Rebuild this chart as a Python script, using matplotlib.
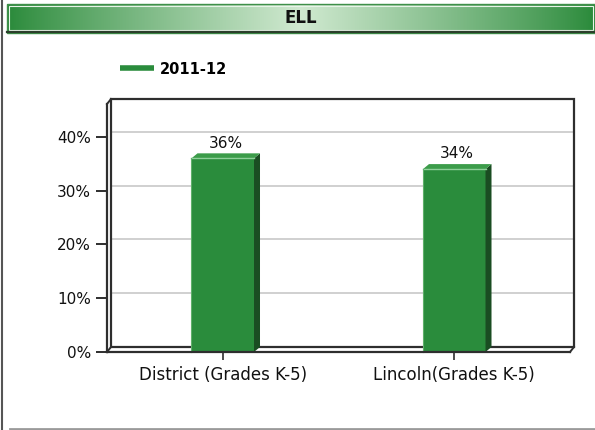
import numpy as np
import matplotlib
matplotlib.use("Agg")
import matplotlib.pyplot as plt
from matplotlib.lines import Line2D
from matplotlib.patches import Polygon, Rectangle

# ---- data ----
title = "ELL"
series_name = "2011-12"
categories = ["District (Grades K-5)", "Lincoln(Grades K-5)"]
values = [36, 34]
yticks = [0, 10, 20, 30, 40]

# ---- styling ----
W, H = 595, 430
DPI = 100
front_col = "#2a8c3c"
side_col = "#1a4d22"
top_col = "#3c9c4a"
hl_col = "#8fd09a"
frame_col = "#2e2e2e"
grid_col = "#c8c8c8"

plt.rcParams['font.family'] = ['DejaVu Sans']

fig = plt.figure(figsize=(W / DPI, H / DPI), dpi=DPI)
fig.patch.set_facecolor("white")

def fx(px):
    return px / W

def fy(py):
    return 1 - py / H

# ---- header bar with gradient ----
hax = fig.add_axes([fx(7), fy(33), fx(588), 29 / H])
t = np.linspace(0, 1, 400)
tri = 1 - np.abs(2 * t - 1)
dark = np.array([0x2a, 0x8a, 0x3a]) / 255
light = np.array([0xd0, 0xe9, 0xd0]) / 255
grad = dark[None, :] + (light - dark)[None, :] * (tri ** 0.9)[:, None]
hax.imshow(grad[None, :, :], aspect="auto", extent=(0, 1, 0, 1))
hax.set_xlim(0, 1)
hax.set_ylim(0, 1)
hax.axis("off")
hax.add_patch(Rectangle((0, 0), 1, 1, fill=False, ec="#3f8f4a", lw=1.0,
                        transform=hax.transAxes, clip_on=False))
hax.add_patch(Rectangle((0.004, 0.12), 0.992, 0.8, fill=False, ec="#e8f4e8",
                        lw=0.8, transform=hax.transAxes, clip_on=False))
hax.add_line(Line2D([0, 1], [0.03, 0.03], color="#2b3f2b", lw=1.6,
                    transform=hax.transAxes, clip_on=False))
hax.text(0.5, 0.52, title, transform=hax.transAxes, ha="center", va="center",
         fontsize=12, fontweight="bold", color="#111111")

# page border lines
fig.add_artist(Line2D([fx(1.5), fx(1.5)], [0, 1], color="#555555", lw=1.5))
fig.add_artist(Line2D([fx(10), 1], [fy(428.5), fy(428.5)], color="#9a9a9a", lw=2))

# ---- main axes ----
ax = fig.add_axes([fx(107), fy(352), fx(463), 248 / H])
x = np.arange(len(categories))
ax.set_xlim(-0.5, len(categories) - 0.5)
ymax = 46.1
ax.set_ylim(0, ymax)
ax.patch.set_alpha(0)

# pixel offsets -> data offsets
def px_to_data(dx_px, dy_px):
    inv = ax.transData.inverted()
    p0 = inv.transform((0, 0))
    p1 = inv.transform((dx_px, dy_px))
    return p1[0] - p0[0], p1[1] - p0[1]

dxb, dyb = px_to_data(4, 5)   # back wall depth
dxs, dys = px_to_data(6, 5)   # bar depth

x0, x1 = ax.get_xlim()

# back wall gridlines
for yv in yticks[1:]:
    ax.add_line(Line2D([x0 + dxb, x1 + dxb], [yv + dyb, yv + dyb],
                       color=grid_col, lw=1.2, zorder=1, clip_on=False))

# back wall frame
ax.add_patch(Rectangle((x0 + dxb, dyb), (x1 - x0), ymax, fill=False,
                       ec=frame_col, lw=1.6, zorder=2, clip_on=False))
# connecting edges
ax.add_line(Line2D([x0, x0 + dxb], [ymax, ymax + dyb], color=frame_col,
                   lw=1.4, zorder=2, clip_on=False))
ax.add_line(Line2D([x1, x1 + dxb], [0, dyb], color=frame_col,
                   lw=1.4, zorder=2, clip_on=False))
ax.add_line(Line2D([x0, x0 + dxb], [0, dyb], color=frame_col,
                   lw=1.4, zorder=2, clip_on=False))

# bars
w = 0.27
ax.bar(x, values, width=w, color=front_col, edgecolor="none", zorder=4)
for xi, v in zip(x, values):
    l, r = xi - w / 2, xi + w / 2
    side = Polygon([(r, 0), (r + dxs, dys), (r + dxs, v + dys), (r, v)],
                   closed=True, fc=side_col, ec="none", zorder=4, clip_on=False)
    top = Polygon([(l, v), (l + dxs, v + dys), (r + dxs, v + dys), (r, v)],
                  closed=True, fc=top_col, ec="none", zorder=4, clip_on=False)
    ax.add_patch(side)
    ax.add_patch(top)
    ax.add_line(Line2D([l, r], [v, v], color=hl_col, lw=1.0, zorder=5,
                       clip_on=False))
    ax.add_line(Line2D([l, l], [0, v], color="#5fb06a", lw=0.8, zorder=5,
                       clip_on=False))
    ax.text(xi + dxs / 2, v + dys + 0.5, f"{v}%", ha="center", va="bottom",
            fontsize=11, color="#111111", zorder=6)

# spines / ticks
for s in ["top", "right"]:
    ax.spines[s].set_visible(False)
for s in ["left", "bottom"]:
    ax.spines[s].set_color(frame_col)
    ax.spines[s].set_linewidth(1.6)
    ax.spines[s].set_zorder(6)

ax.set_yticks(yticks)
ax.set_yticklabels([f"{v}%" for v in yticks])
ax.set_xticks(x)
ax.set_xticklabels(categories)
ax.tick_params(axis="y", length=8, width=1.4, color=frame_col, pad=3.5,
               labelsize=11, labelcolor="#111111")
ax.tick_params(axis="x", length=6, width=1.2, color=frame_col, pad=4,
               labelsize=12, labelcolor="#111111")

# legend
handle = Line2D([], [], color=front_col, lw=4, solid_capstyle="butt")
fig.legend([handle], [series_name], loc="center left",
           bbox_to_anchor=(fx(120), fy(69)), frameon=False, borderpad=0,
           borderaxespad=0, handlelength=2.3, handletextpad=0.45,
           prop={"weight": "bold", "size": 10.5})

fig.savefig("out.png", dpi=DPI)
